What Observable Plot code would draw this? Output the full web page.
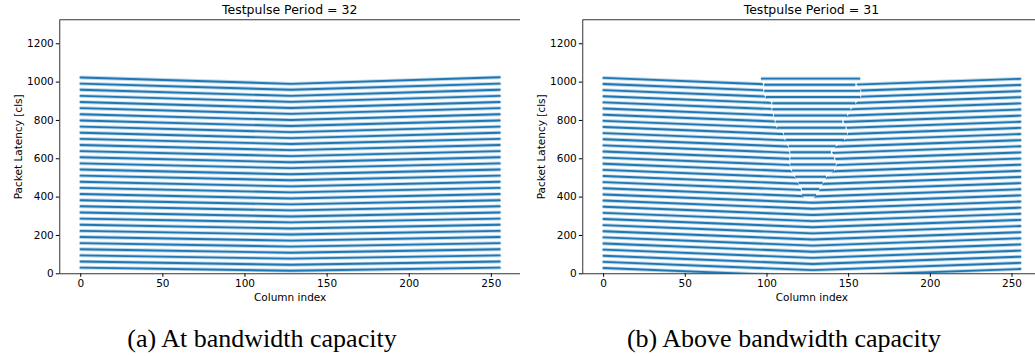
<!DOCTYPE html>
<html><head><meta charset="utf-8">
<script src="https://cdn.jsdelivr.net/npm/d3@7"></script>
<script src="https://cdn.jsdelivr.net/npm/@observablehq/plot@0.6"></script>
<style>
html,body{margin:0;padding:0;background:#fff;}
#wrap{position:relative;width:1035px;height:356px;overflow:hidden;background:#fff;}
.panel{position:absolute;top:0;}
.ttl{position:absolute;top:2px;font-family:"DejaVu Sans",sans-serif;font-size:12.5px;white-space:nowrap;transform:translateX(-50%);color:#000;}
.cap{position:absolute;top:324px;font-family:"Liberation Serif","Times New Roman",serif;font-size:26px;white-space:nowrap;transform:translateX(-50%);color:#000;}
</style></head><body>
<div id="wrap">
 <div id="p1" class="panel" style="left:0;width:525px"></div>
 <div id="p2" class="panel" style="left:520px;width:526px"></div>
 <div class="ttl" style="left:289.7px">Testpulse Period = 32</div>
 <div class="ttl" style="left:811.4px">Testpulse Period = 31</div>
 <div class="cap" style="left:262px">(a) At bandwidth capacity</div>
 <div class="cap" style="left:784px">(b) Above bandwidth capacity</div>
</div>
<script>
// ---- data ----
const columnTicks = [0, 50, 100, 150, 200, 250];
const latencyTicks = [0, 200, 400, 600, 800, 1000, 1200];
const keyColumns = [0, 128, 255];           // columns where each packet line bends

// Period 32: latency per packet line at column 0, 128, 255
const leftStart = [32,64,96,128,160,192,224,256,288,320,352,384,416,448,480,512,544,576,608,640,672,704,736,768,800,832,864,896,928,960,992,1024];
const leftMid   = [16,47,79,110,142,173,205,236,268,299,331,362,393,425,456,488,519,551,582,614,645,677,708,739,771,802,834,865,897,928,960,991];
const leftEnd   = [32,64,96,128,160,192,224,256,288,320,352,384,416,448,480,512,544,576,608,640,672,704,736,768,800,832,864,896,928,960,992,1025];

// Period 31: latency per packet line at column 0, 128, 255 (outside the disturbed region)
const rightStart = [30,62,94,126,158,190,222,254,286,318,350,382,414,446,478,510,542,574,606,638,670,702,734,766,798,830,862,894,926,958,990,1022];
const rightMid   = [-13,19,51,83,115,147,179,211,243,275,307,339,371,403,435,467,499,531,563,595,627,659,691,723,755,787,819,851,883,915,947,979];
const rightEnd   = [25,57,89,121,153,185,217,249,281,313,345,377,409,441,473,505,537,569,601,633,665,697,729,761,793,825,857,889,921,953,985,1017];

// Period 31: disturbed V-shaped region (flat lines inside), latency and column bounds
const vLatency = [378,410,442,474,506,538,570,602,634,666,698,730,762,794,826,858,890,922,954,986,1018];
const vLeft    = [125,121,121,119,117,115,114,114,114,113,111,110,106,105,104,103,103,99,98,98,96];
const vRight   = [127,131,133,135,137,142,143,142,140,143,148,150,149,147,150,152,155,158,158,155,158];
const vGap = 0.6; // columns left empty at each edge of the region

// ---- build tables ----
function lineRows(start, mid, end) {
  const rows = [];
  start.forEach((_, i) => {
    [start[i], mid[i], end[i]].forEach((lat, j) => rows.push({line: i, col: keyColumns[j], lat}));
  });
  return rows;
}
const leftRows = lineRows(leftStart, leftMid, leftEnd);
const rightRows = lineRows(rightStart, rightMid, rightEnd);
const vRows = vLatency.map((lat, i) => ({lat, left: vLeft[i], right: vRight[i]}));
const vLines = vRows.filter(d => d.right - d.left > 2 * vGap + 1);

const C0 = "#1f77b4";
function panel(rows, width, marginLeft, marginRight, extra) {
  return Plot.plot({
    width, height: 310,
    marginLeft, marginRight, marginTop: 19.3, marginBottom: 36.7,
    x: {domain: [-12.75, 267.75]},
    y: {domain: [0, 1325]},
    style: {fontFamily: "DejaVu Sans", fontSize: "10.5px", color: "black", background: "white", maxWidth: "none", overflow: "visible"},
    marks: [
      Plot.line(rows, {x: "col", y: "lat", z: "line", stroke: C0, strokeWidth: 3.8, strokeOpacity: 0.3, clip: true}),
      Plot.line(rows, {x: "col", y: "lat", z: "line", stroke: C0, strokeWidth: 1.9, clip: true}),
      ...extra,
      Plot.frame({stroke: "black", strokeWidth: 0.8}),
      Plot.axisX({ticks: columnTicks, tickFormat: "d", tickSize: 3.5, tickPadding: 2.5, label: "Column index", labelAnchor: "center", labelArrow: "none", labelOffset: 27, fontSize: 10.5}),
      Plot.axisY({ticks: latencyTicks, tickFormat: "d", tickSize: 3.5, tickPadding: 2.5, label: "Packet Latency [cls]", labelAnchor: "center", labelArrow: "none", labelOffset: 45})
    ]
  });
}

document.getElementById("p1").append(panel(leftRows, 525, 59.3, 5, []));
document.getElementById("p2").append(panel(rightRows, 526, 62.3, 5.5, [
  Plot.areaX(vRows, {y: "lat", x1: "left", x2: "right", fill: "white", clip: true}),
  Plot.ruleY(vLines, {y: "lat", x1: d => d.left + vGap, x2: d => d.right - vGap, stroke: C0, strokeWidth: 3.8, strokeOpacity: 0.3}),
  Plot.ruleY(vLines, {y: "lat", x1: d => d.left + vGap, x2: d => d.right - vGap, stroke: C0, strokeWidth: 1.9})
]));
</script>
</body></html>
